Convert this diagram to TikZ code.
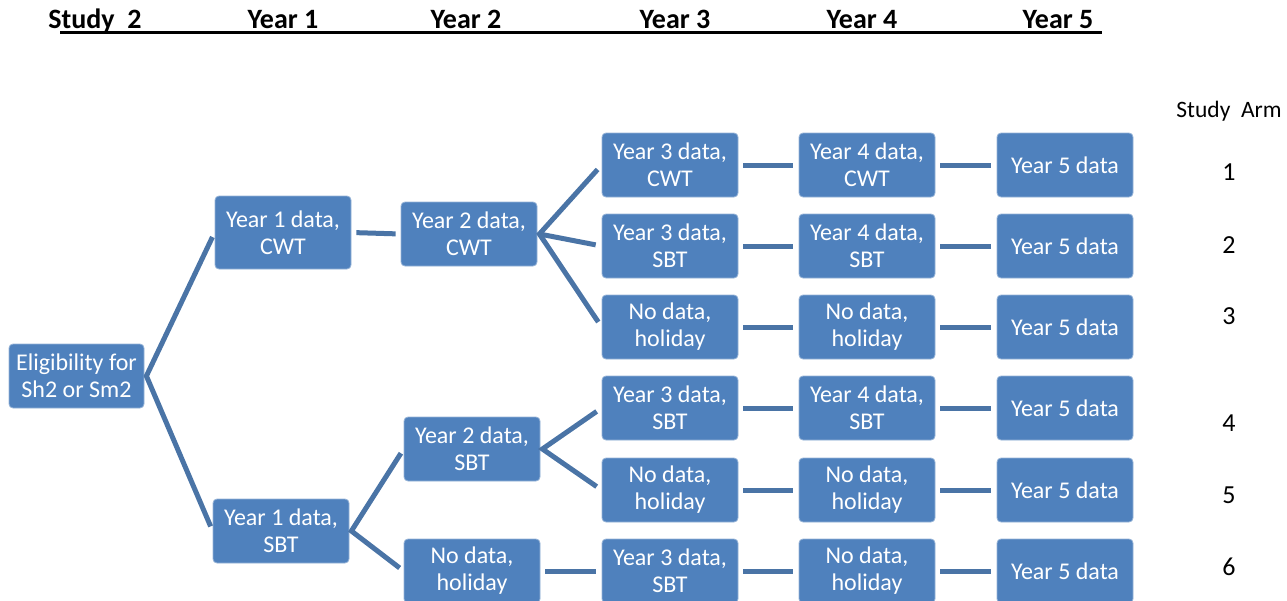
\documentclass[tikz,border=0pt]{standalone}
\usepackage{fontspec}
\setmainfont{Carlito}
\usetikzlibrary{calc}
\definecolor{boxblue}{HTML}{4F81BD}
\definecolor{lineblue}{HTML}{4A74A6}
\tikzset{
  box/.style={rectangle, rounded corners=4pt, fill=boxblue, draw=boxblue!60!white, line width=0.8pt,
    minimum width=136pt, minimum height=64pt, inner sep=0pt, align=center, text=white,
    font=\fontsize{24}{27}\selectfont},
  conn/.style={draw=lineblue, line width=5pt, line join=miter},
  hdr/.style={font=\bfseries\fontsize{28}{30}\selectfont, anchor=base},
  armlbl/.style={font=\fontsize{26}{28}\selectfont}
}
\begin{document}
\begin{tikzpicture}[x=1pt,y=-1pt]
\clip (0,0) rectangle (1287,600);
% header
\node[hdr] (h0) at (95,28) {Study\ \ 2};
\node[hdr] (h1) at (283,28) {Year 1};
\node[hdr] (h2) at (466,28) {Year 2};
\node[hdr] (h3) at (675,28) {Year 3};
\node[hdr] (h4) at (862,28) {Year 4};
\node[hdr] (h5) at (1058,28) {Year 5};
\coordinate (ulA) at (60,32);
\coordinate (ulB) at (1102,32);
\draw[line width=3pt] (ulA) -- (ulB);
% study arm
\node[font=\fontsize{23.5}{27}\selectfont] (sa) at (1229,111) {Study\ \ Arm};
\node[armlbl] (a1) at (1229,172) {1};
\node[armlbl] (a2) at (1229,245) {2};
\node[armlbl] (a3) at (1229,316) {3};
\node[armlbl] (a4) at (1229,423) {4};
\node[armlbl] (a5) at (1229,495) {5};
\node[armlbl] (a6) at (1229,567) {6};
% boxes
\node[box, minimum width=135pt] (el) at (76.5,376) {Eligibility for\\Sh2 or Sm2};
\node[box, minimum height=73pt] (y1a) at (283,232.5) {Year 1 data,\\CWT};
\node[box] (y1b) at (281,531) {Year 1 data,\\SBT};
\node[box] (y2a) at (469,234) {Year 2 data,\\CWT};
\node[box] (y2b) at (472,449) {Year 2 data,\\SBT};
\node[box] (y2c) at (472,571) {No data,\\holiday};
% year 3
\node[box] (y3a) at (670,165) {Year 3 data,\\CWT};
\node[box] (y3b) at (670,246) {Year 3 data,\\SBT};
\node[box] (y3c) at (670,327) {No data,\\holiday};
\node[box] (y3d) at (670,408) {Year 3 data,\\SBT};
\node[box] (y3e) at (670,490) {No data,\\holiday};
\node[box] (y3f) at (670,571) {Year 3 data,\\SBT};
% year 4
\node[box] (y4a) at (867,165) {Year 4 data,\\CWT};
\node[box] (y4b) at (867,246) {Year 4 data,\\SBT};
\node[box] (y4c) at (867,327) {No data,\\holiday};
\node[box] (y4d) at (867,408) {Year 4 data,\\SBT};
\node[box] (y4e) at (867,490) {No data,\\holiday};
\node[box] (y4f) at (867,571) {No data,\\holiday};
% year 5
\node[box] (y5a) at (1065,165) {Year 5 data};
\node[box] (y5b) at (1065,246) {Year 5 data};
\node[box] (y5c) at (1065,327) {Year 5 data};
\node[box] (y5d) at (1065,408) {Year 5 data};
\node[box] (y5e) at (1065,490) {Year 5 data};
\node[box] (y5f) at (1065,571) {Year 5 data};
% fork points
\coordinate (f0) at ($(el.east)+(2,0)$);
\coordinate (f1) at ($(y1b.east)+(2,0)$);
\coordinate (f2) at ($(y2a.east)+(2,0)$);
\coordinate (f3) at ($(y2b.east)+(2,0)$);
% connectors
\draw[conn, shorten <=5pt, shorten >=5pt] (y1a.west) -- (f0) -- (y1b.west);
\draw[conn, shorten <=5pt, shorten >=5pt] (y2b.west) -- (f1) -- (y2c.west);
\draw[conn, shorten <=6pt, shorten >=6pt] (y3a.west) -- (f2) -- (y3c.west);
\draw[conn, shorten >=6pt] (f2) -- (y3b.west);
\draw[conn, shorten <=6pt, shorten >=6pt] (y3d.west) -- (f3) -- (y3e.west);
\draw[conn, shorten <=5pt, shorten >=5pt] (y1a.east) -- (y2a.west);
\draw[conn, shorten <=5pt, shorten >=6pt] (y2c.east) -- (y3f.west);
\foreach \r in {a,b,c,d,e,f}{
  \draw[conn, shorten <=5pt, shorten >=6pt] (y3\r.east) -- (y4\r.west);
  \draw[conn, shorten <=5pt, shorten >=6pt] (y4\r.east) -- (y5\r.west);
}
\end{tikzpicture}
\end{document}
